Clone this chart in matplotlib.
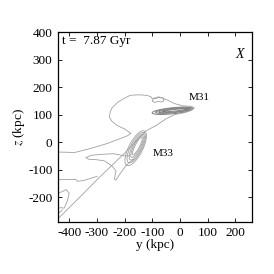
import matplotlib
matplotlib.use('Agg')
import matplotlib.pyplot as plt
from matplotlib.patches import Ellipse

plt.rcParams['font.family'] = ['Liberation Serif', 'DejaVu Serif']
plt.rcParams['mathtext.fontset'] = 'stix'

# outer contour: tail + head + diagonal edge (y, z in kpc)
outer_y = [-440, -400, -382, -330, -292, -260, -237, -210, -190, -177, -200, -226, -245,
           -255, -252, -245, -225, -200, -180, -150, -120, -105, -100, -92, -80, -62,
           -40, -20, 10, 40, 52, 45, 20, -20, -50, -87, -123, -200, -292, -360, -443]
outer_z = [-36, -37, -38, -25, -14, -4, 5, 15, 23, 32, 48, 60, 75,
           90, 110, 125, 145, 160, 170, 172, 170, 165, 157, 160, 163, 160,
           150, 140, 132, 130, 125, 118, 108, 100, 85, 60, 41, -40, -129, -198, -281]

# lower horizontal contour merging into the diagonal
low_y = [-440, -400, -376, -370, -350, -330, -299]
low_z = [-136, -136, -136, -142, -140, -134, -124]

# blob below M33
blob_y = [-180, -200, -240, -292, -320, -340, -330, -300, -273, -245, -231, -237,
          -232, -213, -195, -178, -165]
blob_z = [-50, -50, -42, -45, -48, -56, -62, -64, -68, -87, -105, -134,
          -138, -110, -85, -70, -62]

# small contour in the lower left corner
corner_y = [-440, -425, -412, -400, -403, -407, -418, -430, -440]
corner_z = [-185, -180, -172, -185, -200, -215, -240, -238, -240]
corner2_y = [-440, -430, -425]
corner2_z = [-258, -252, -246]

# crest bumps on the head
crest_y = [-100, -95, -85, -78, -70, -62, -58, -66, -80, -92, -100]
crest_z = [150, 160, 158, 165, 162, 160, 150, 146, 148, 144, 150]

# nested contours (centre y, centre z, length, width, angle)
m31_cy = [-27, -24, -21, -18]
m31_cz = [114, 115, 115, 116]
m31_len = [148, 130, 112, 92]
m31_wid = [22, 16, 11, 6]
m31_ang = [6, 6, 6, 6]

m33_cy = [-160, -158, -156, -155, -154]
m33_cz = [-22, -20, -18, -16, -14]
m33_len = [140, 122, 104, 88, 72]
m33_wid = [50, 41, 32, 24, 16]
m33_ang = [63, 63, 63, 63, 63]

grey = '#a0a0a0'

fig, ax = plt.subplots(figsize=(2.74, 2.74), dpi=100)
fig.subplots_adjust(left=0.212, right=0.920, bottom=0.190, top=0.883)

for yy, zz in [(outer_y, outer_z), (low_y, low_z), (blob_y, blob_z),
               (corner_y, corner_z), (corner2_y, corner2_z), (crest_y, crest_z)]:
    ax.plot(yy, zz, color=grey, lw=0.6)

for i in range(len(m31_cy)):
    ax.add_patch(Ellipse((m31_cy[i], m31_cz[i]), m31_len[i], m31_wid[i], angle=m31_ang[i],
                         fill=False, ec='#808080', lw=0.7))
for i in range(len(m33_cy)):
    ax.add_patch(Ellipse((m33_cy[i], m33_cz[i]), m33_len[i], m33_wid[i], angle=m33_ang[i],
                         fill=False, ec=grey, lw=0.6))

ax.set_xlim(-440, 260)
ax.set_ylim(-290, 400)
ax.set_xticks([-400, -300, -200, -100, 0, 100, 200])
ax.set_yticks([-200, -100, 0, 100, 200, 300, 400])
ax.set_xticklabels(['-400', '-300', '-200', '-100', '0', '100', '200'])
ax.set_yticklabels(['-200', '-100', '0', '100', '200', '300', '400'])
ax.tick_params(direction='in', top=True, right=True, length=3, width=0.6, labelsize=9.5, pad=4)
for s in ax.spines.values():
    s.set_linewidth(0.9)

ax.set_xlabel('y (kpc)', fontsize=9.5, labelpad=0)
ax.set_ylabel(r'$z$ (kpc)', fontsize=9.5, labelpad=1)

ax.text(-425, 388, 't =  7.87 Gyr', fontsize=9.5, va='top')
ax.text(200, 318, 'X', fontsize=10, style='italic', va='center')
ax.text(70, 163, 'M31', fontsize=8, va='center', ha='center')
ax.text(-62, -42, 'M33', fontsize=8, va='center', ha='center')

fig.savefig('out.png', dpi=100)
